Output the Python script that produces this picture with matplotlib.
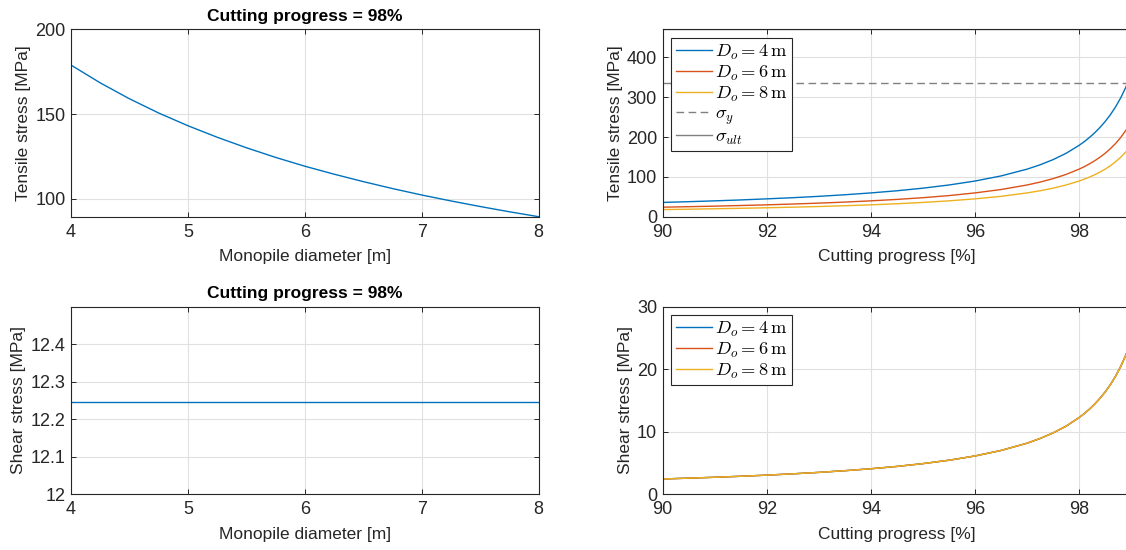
import matplotlib
matplotlib.use("Agg")
import matplotlib.pyplot as plt
from matplotlib.ticker import FormatStrFormatter

plt.rcParams['font.family'] = ['Liberation Sans', 'DejaVu Sans']
plt.rcParams['mathtext.fontset'] = 'cm'

# ---------------- data ----------------
diam = [4, 4.25, 4.5, 4.75, 5, 5.25, 5.5, 5.75, 6, 6.25, 6.5, 6.75, 7, 7.25, 7.5, 7.75, 8]
tens_vs_diam = [179.0, 168.5, 159.1, 150.7, 143.2, 136.4, 130.2, 124.5, 119.3, 114.6,
                110.2, 106.1, 102.3, 98.8, 95.5, 92.4, 89.5]
shear_vs_diam = [12.245] * len(diam)

progress = [90, 90.5, 91, 91.5, 92, 92.5, 93, 93.5, 94, 94.5, 95, 95.5, 96, 96.5, 97,
            97.25, 97.5, 97.75, 98, 98.1, 98.2, 98.3, 98.4, 98.5, 98.6, 98.7, 98.8, 98.9, 99]
tens_D4 = [35.8, 37.7, 39.8, 42.1, 44.8, 47.7, 51.1, 55.1, 59.7, 65.1, 71.6, 79.6, 89.5,
           102.3, 119.3, 130.2, 143.2, 159.1, 179.0, 188.4, 198.9, 210.6, 223.8, 238.7,
           255.7, 275.4, 298.3, 325.5, 358.0]
tens_D6 = [23.9, 25.1, 26.5, 28.1, 29.8, 31.8, 34.1, 36.7, 39.8, 43.4, 47.7, 53.0, 59.7,
           68.2, 79.6, 86.8, 95.5, 106.1, 119.3, 125.6, 132.6, 140.4, 149.2, 159.1,
           170.5, 183.6, 198.9, 217.0, 238.7]
tens_D8 = [17.9, 18.8, 19.9, 21.1, 22.4, 23.9, 25.6, 27.5, 29.8, 32.5, 35.8, 39.8, 44.8,
           51.1, 59.7, 65.1, 71.6, 79.6, 89.5, 94.2, 99.4, 105.3, 111.9, 119.3,
           127.8, 137.7, 149.2, 162.7, 179.0]
shear_p = [2.45, 2.58, 2.72, 2.88, 3.06, 3.27, 3.50, 3.77, 4.08, 4.45, 4.90, 5.44, 6.12,
           7.00, 8.16, 8.91, 9.80, 10.88, 12.25, 12.89, 13.61, 14.41, 15.31, 16.33,
           17.49, 18.84, 20.41, 22.27, 24.49]
shear_D4 = shear_p
shear_D6 = shear_p
shear_D8 = shear_p

sigma_y = 335
sigma_ult = 470

labels = [r'$D_o = 4\,\mathrm{m}$', r'$D_o = 6\,\mathrm{m}$', r'$D_o = 8\,\mathrm{m}$']
colors = ['#0072BD', '#D95319', '#EDB120']
title_txt = 'Cutting progress = 98%'

# ---------------- figure ----------------
fig = plt.figure(figsize=(11.26, 5.5), dpi=100)
W, H = 1126.0, 550.0

def px_axes(x0, x1, y0, y1):
    return fig.add_axes([x0 / W, 1 - y1 / H, (x1 - x0) / W, (y1 - y0) / H])

ax1 = px_axes(71.0, 538.7, 29.5, 216.7)
ax2 = px_axes(662.6, 1131.1, 29.5, 216.7)
ax3 = px_axes(71.0, 538.7, 306.5, 494.3)
ax4 = px_axes(662.6, 1131.1, 306.5, 494.3)

axc = '#262626'
lw = 1.0
tfs = 13
lfs = 12.5

def style(ax):
    ax.grid(True, color='#e0e0e0', linewidth=0.8)
    ax.set_axisbelow(True)
    for s in ax.spines.values():
        s.set_color(axc)
        s.set_linewidth(0.8)
        s.set_zorder(5)
    ax.tick_params(direction='in', top=True, right=True, length=3.5, width=0.7,
                   colors=axc, labelsize=tfs)
    ax.tick_params(axis='x', pad=5)
    ax.tick_params(axis='y', pad=4)

# top-left
ax1.plot(diam, tens_vs_diam, color=colors[0], lw=lw)
ax1.set_xlim(4, 8)
ax1.set_ylim(89.5, 200)
ax1.set_yticks([100, 150, 200])
ax1.set_xticks([4, 5, 6, 7, 8])
ax1.set_xlabel('Monopile diameter [m]', fontsize=lfs, color=axc, labelpad=6)
ax1.set_ylabel('Tensile stress [MPa]', fontsize=lfs, color=axc, labelpad=3)
ax1.set_title(title_txt, fontsize=lfs, fontweight='bold', pad=6)
style(ax1)

# top-right
ax2.plot(progress, tens_D4, color=colors[0], lw=lw, label=labels[0])
ax2.plot(progress, tens_D6, color=colors[1], lw=lw, label=labels[1])
ax2.plot(progress, tens_D8, color=colors[2], lw=lw, label=labels[2])
ax2.axhline(sigma_y, color='#808080', lw=lw, dashes=(5.5, 3.2), label=r'$\sigma_y$')
ax2.axhline(sigma_ult, color='#808080', lw=lw, label=r'$\sigma_{ult}$')
ax2.set_xlim(90, 99)
ax2.set_ylim(0, sigma_ult)
ax2.set_xticks([90, 92, 94, 96, 98])
ax2.set_yticks([0, 100, 200, 300, 400])
ax2.set_xlabel('Cutting progress [%]', fontsize=lfs, color=axc, labelpad=6)
ax2.set_ylabel('Tensile stress [MPa]', fontsize=lfs, color=axc, labelpad=3)
style(ax2)

# bottom-left
ax3.plot(diam, shear_vs_diam, color=colors[0], lw=lw)
ax3.set_xlim(4, 8)
ax3.set_ylim(12, 12.5)
ax3.set_yticks([12, 12.1, 12.2, 12.3, 12.4])
ax3.yaxis.set_major_formatter(FormatStrFormatter('%g'))
ax3.set_xticks([4, 5, 6, 7, 8])
ax3.set_xlabel('Monopile diameter [m]', fontsize=lfs, color=axc, labelpad=6)
ax3.set_ylabel('Shear stress [MPa]', fontsize=lfs, color=axc, labelpad=3)
ax3.set_title(title_txt, fontsize=lfs, fontweight='bold', pad=6)
style(ax3)

# bottom-right
ax4.plot(progress, shear_D4, color=colors[0], lw=lw, label=labels[0])
ax4.plot(progress, shear_D6, color=colors[1], lw=lw, label=labels[1])
ax4.plot(progress, shear_D8, color=colors[2], lw=lw, label=labels[2])
ax4.set_xlim(90, 99)
ax4.set_ylim(0, 30)
ax4.set_xticks([90, 92, 94, 96, 98])
ax4.set_yticks([0, 10, 20, 30])
ax4.set_xlabel('Cutting progress [%]', fontsize=lfs, color=axc, labelpad=6)
ax4.set_ylabel('Shear stress [MPa]', fontsize=lfs, color=axc, labelpad=3)
style(ax4)

for ax in (ax2, ax4):
    leg = ax.legend(loc='upper left', fontsize=13.3, frameon=True, fancybox=False,
                    edgecolor=axc, framealpha=1, borderaxespad=0.45,
                    handlelength=2.0, handletextpad=0.15, labelspacing=0.1,
                    borderpad=0.25)
    leg.get_frame().set_linewidth(0.8)

fig.savefig('out.png', dpi=100)
